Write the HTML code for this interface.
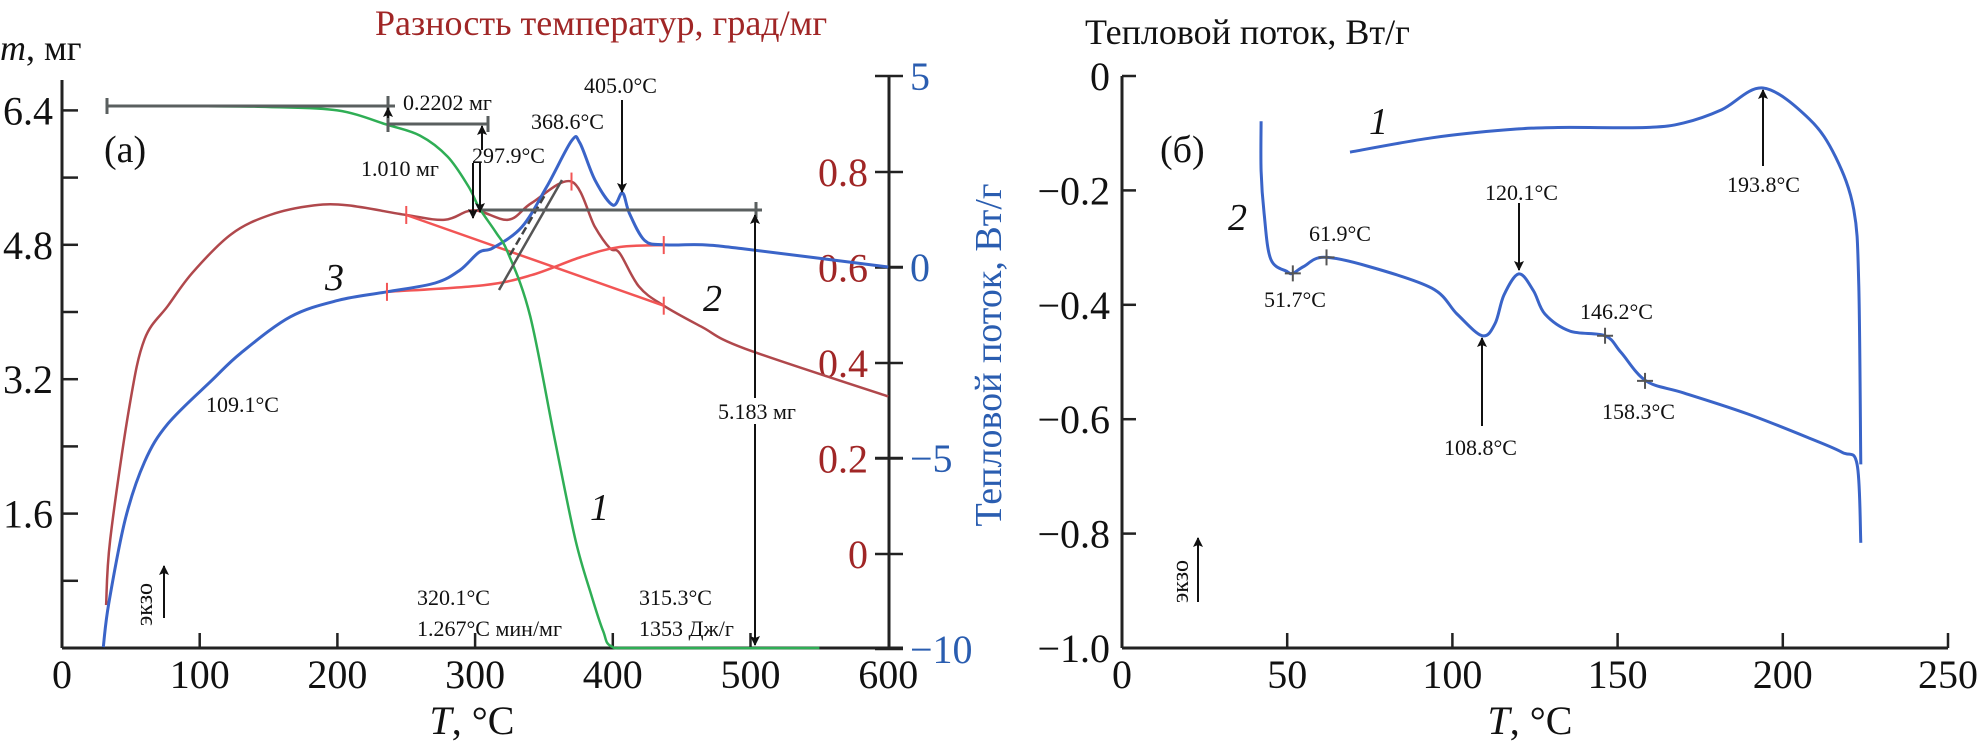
<!DOCTYPE html>
<html><head><meta charset="utf-8">
<style>
html,body{margin:0;padding:0;background:#fff;}
svg{display:block;font-family:"Liberation Serif","Noto Serif CJK SC",serif;}
</style></head>
<body>
<svg id="fig" width="1979" height="746" viewBox="0 0 1979 746" xmlns="http://www.w3.org/2000/svg">
<defs>
<marker id="ah" markerWidth="10" markerHeight="10" refX="9" refY="5" orient="auto" markerUnits="userSpaceOnUse"><path d="M0,0 L10,5 L0,10 L2,5 z" fill="#111"/></marker>
</defs>
<g id="left"></g>
<g id="right"></g>
</svg>
<script>
// ---------- Chart (a) data ----------
const xTicksA = [0,100,200,300,400,500,600];
const mTicks = [1.6,3.2,4.8,6.4];
const mMinor = [0.8,2.4,4.0,5.6];
const redTicks = [0,0.2,0.4,0.6,0.8];
const blueTicks = [-10,-5,0,5];
const tgT = [35,100,150,200,236,260,280,295,303,315,324,340,358,373,385,393,399,420,550];
const tgM = [6.45,6.45,6.44,6.40,6.23,6.10,5.85,5.5,5.24,4.95,4.70,3.95,2.47,1.28,0.6,0.2,0.02,0,0];
const dtaT = [32,35,49,60,77,95,123,151,183,208,250,278,299,324,341,370,387,398,405,419,437,465,496,600];
const dtaV = [-0.107,0.03,0.31,0.45,0.52,0.59,0.67,0.71,0.73,0.73,0.71,0.70,0.72,0.70,0.735,0.78,0.685,0.64,0.63,0.56,0.52,0.475,0.43,0.33];
const baseAT = [236,306,341,377,405,437];
const baseAV = [0.549,0.563,0.584,0.622,0.643,0.647];
const baseBT = [250,437];
const baseBV = [0.71,0.52];
const hfT = [30,34,46,60,77,109,130,166,201,236,271,289,303,313,334,352,370,376,387,400,407,412,423,437,465,496,600];
const hfV = [-9.95,-8.8,-6.6,-5.1,-4.1,-2.96,-2.25,-1.3,-0.87,-0.65,-0.42,-0.08,0.39,0.5,1.05,2.1,3.3,3.25,2.28,1.62,1.94,1.41,0.7,0.58,0.58,0.47,0.0];
// ---------- Chart (b) data ----------
const xTicksB = [0,50,100,150,200,250];
const yTicksB = [0,-0.2,-0.4,-0.6,-0.8,-1.0];
const c1T = [69,93.8,116.5,131.9,158.6,170,181.5,194,208,216,221.5,223,223.6];
const c1V = [-0.133,-0.108,-0.094,-0.09,-0.09,-0.082,-0.059,-0.021,-0.075,-0.142,-0.234,-0.367,-0.679];
const c2T = [42.1,42.1,43,45,50,51.7,55,61.1,74.7,93.8,101.4,109,112.9,115.6,120.1,124.5,128,135.6,146.2,151,158.6,170,189,208,218,222.5,223.6];
const c2V = [-0.079,-0.166,-0.24,-0.32,-0.342,-0.345,-0.333,-0.317,-0.333,-0.371,-0.416,-0.454,-0.433,-0.383,-0.346,-0.375,-0.416,-0.446,-0.454,-0.483,-0.533,-0.554,-0.59,-0.633,-0.658,-0.679,-0.816];

const NS="http://www.w3.org/2000/svg";
function mk(parent,tag,attrs,text){const e=document.createElementNS(NS,tag);for(const k in attrs)e.setAttribute(k,attrs[k]);if(text!==undefined)e.textContent=text;parent.appendChild(e);return e;}
const xA=t=>62+t*1.377, yM=m=>648-m*84, yR=v=>554-v*477.5, yB=v=>267-v*38.2;
const xB=t=>1122+t*3.304, yH=v=>76-v*572;
function pathD(xs,ys,fx,fy){
  const P=xs.map((t,i)=>[fx(t),fy(ys[i])]);
  let d='M'+P[0][0].toFixed(1)+','+P[0][1].toFixed(1);
  for(let i=0;i<P.length-1;i++){
    const p0=P[Math.max(0,i-1)],p1=P[i],p2=P[i+1],p3=P[Math.min(P.length-1,i+2)];
    const c1=[p1[0]+(p2[0]-p0[0])/6,p1[1]+(p2[1]-p0[1])/6];
    const c2=[p2[0]-(p3[0]-p1[0])/6,p2[1]-(p3[1]-p1[1])/6];
    d+=' C'+c1[0].toFixed(1)+','+c1[1].toFixed(1)+' '+c2[0].toFixed(1)+','+c2[1].toFixed(1)+' '+p2[0].toFixed(1)+','+p2[1].toFixed(1);
  }
  return d;
}

const L=document.getElementById('left'), R=document.getElementById('right');
let e;
e=mk(L,'line',{x1:62,y1:80,x2:62,y2:648,stroke:'#222','stroke-width':3});


e=mk(L,'line',{x1:62,y1:648,x2:903,y2:648,stroke:'#222','stroke-width':3});


e=mk(L,'line',{x1:889,y1:75,x2:889,y2:648,stroke:'#222','stroke-width':3});


xTicksA.forEach(t=>{
  if(t>0&&t<600){e=mk(L,'line',{x1:xA(t),y1:648,x2:xA(t),y2:633,stroke:'#222','stroke-width':2.5});
  
  }
  e=mk(L,'text',{x:xA(t),y:688,'font-size':40,'text-anchor':'middle',fill:'#111'},String(t));
  
  
});
mTicks.forEach(m=>{
  e=mk(L,'line',{x1:62,y1:yM(m),x2:78,y2:yM(m),stroke:'#222','stroke-width':2.5});
  
  
  e=mk(L,'text',{x:53,y:yM(m)+14,'font-size':40,'text-anchor':'end',fill:'#111'},m.toFixed(1));
  
  
});
mMinor.forEach(m=>{
  e=mk(L,'line',{x1:62,y1:yM(m),x2:78,y2:yM(m),stroke:'#222','stroke-width':2.5});
  
  
});
redTicks.forEach(v=>{
  e=mk(L,'line',{x1:875,y1:yR(v),x2:903,y2:yR(v),stroke:'#222','stroke-width':2.5});
  
  
  e=mk(L,'text',{x:868,y:yR(v)+14,'font-size':40,'text-anchor':'end',fill:'#a02626'},v===0?'0':v.toFixed(1));
  
  
});
blueTicks.forEach(v=>{
  e=mk(L,'line',{x1:875,y1:yB(v),x2:903,y2:yB(v),stroke:'#222','stroke-width':2.5});
  
  
  e=mk(L,'text',{x:910,y:yB(v)+14,'font-size':40,'text-anchor':'start',fill:'#2a5db0'},v<0?'\u2212'+(-v):String(v));
  
  
});
e=mk(L,'path',{d:pathD(dtaT,dtaV,xA,yR),fill:'none',stroke:'#b0484c','stroke-width':2.5});


e=mk(L,'path',{d:pathD(baseAT,baseAV,xA,yR),fill:'none',stroke:'#f25555','stroke-width':2.5});


e=mk(L,'path',{d:pathD(baseBT,baseBV,xA,yR),fill:'none',stroke:'#f25555','stroke-width':2.5});


e=mk(L,'path',{d:pathD(hfT,hfV,xA,yB),fill:'none',stroke:'#3a64c8','stroke-width':3});


e=mk(L,'path',{d:pathD(tgT,tgM,xA,yM),fill:'none',stroke:'#2fae55','stroke-width':2.5});


e=mk(L,'line',{x1:499,y1:290,x2:562,y2:180,stroke:'#555','stroke-width':2.5});


e=mk(L,'line',{x1:510,y1:255,x2:545,y2:195,stroke:'#444','stroke-width':2.5,'stroke-dasharray':'8 4'});


[[250,0.71],[437,0.52],[236,0.549],[437,0.647],[370,0.78]].forEach(p=>{
  e=mk(L,'line',{x1:xA(p[0]),y1:yR(p[1])-9,x2:xA(p[0]),y2:yR(p[1])+9,stroke:'#f25555','stroke-width':2});
  
  
});
function gl(x1,y1,x2,y2,n){e=mk(L,'line',{x1:x1,y1:y1,x2:x2,y2:y2,stroke:'#5a5f5f','stroke-width':3});}
gl(107,106,395,106,'mass-level-1');gl(107,98,107,114,'mass-cap');
gl(388,124,488,124,'mass-level-2');gl(388,96,388,132,'mass-cap');
gl(482,210,762,210,'mass-level-3');gl(756,202,756,218,'mass-cap');
gl(488,116,488,132,'mass-cap');
function arr(x1,y1,x2,y2,n){e=mk(L,'line',{x1:x1,y1:y1,x2:x2,y2:y2,stroke:'#111','stroke-width':2,'marker-end':'url(#ah)'});}
arr(755,640,755,215,'arrow-5183-up');arr(755,215,755,645,'arrow-5183-down');
arr(473,163,473,218,'arrow-2979-a');arr(480,163,480,212,'arrow-2979-b');
arr(482,150,482,126,'arrow-1010-up');
arr(622,100,622,192,'arrow-405');
arr(388,118,388,108,'arrow-0220');
function tx(p,x,y,s,str,n,extra){const a={x:x,y:y,'font-size':s,fill:'#111'};if(extra)Object.assign(a,extra);e=mk(p,'text',a,str);return e;}
tx(L,403,110,22,'0.2202 мг','label-0220');
tx(L,361,176,22,'1.010 мг','label-1010');
tx(L,472,163,22,'297.9°C','label-2979');
tx(L,531,129,22,'368.6°C','label-3686');
tx(L,584,93,22,'405.0°C','label-4050');
tx(L,206,412,22,'109.1°C','label-1091');
tx(L,417,605,22,'320.1°C','label-3201');
tx(L,417,636,22,'1.267°C мин/мг','label-rate');
tx(L,639,605,22,'315.3°C','label-3153');
tx(L,639,636,22,'1353 Дж/г','label-enthalpy');
e=mk(L,'rect',{x:718,y:398,width:80,height:26,fill:'#fff'});


tx(L,718,419,22,'5.183 мг','label-5183');
tx(L,104,162,38,'(a)','panel-label-a');
tx(L,325,290,38,'3','curve-label-3',{'font-style':'italic'});
tx(L,703,311,38,'2','curve-label-2',{'font-style':'italic'});
tx(L,590,520,38,'1','curve-label-1',{'font-style':'italic'});
tx(L,152,626,24,'экзо','exo-label-a',{transform:'rotate(-90 152 626)'});
arr(164,618,164,566,'exo-arrow-a');
e=mk(L,'text',{x:0,y:60,'font-size':36,fill:'#111'});


e.innerHTML='<tspan font-style="italic">m</tspan>, мг';
tx(L,375,35,36,'Разность температур, град/мг','red-axis-title',{fill:'#a02626'});
e=mk(L,'text',{x:988,y:355,'font-size':38,fill:'#2a5db0','text-anchor':'middle',transform:'rotate(-90 988 355)',dy:'13'},'Тепловой поток, Вт/г');


e=mk(L,'text',{x:472,y:734,'font-size':40,fill:'#111','text-anchor':'middle'});


e.innerHTML='<tspan font-style="italic">T</tspan>, °C';

e=mk(R,'line',{x1:1122,y1:76,x2:1122,y2:648,stroke:'#222','stroke-width':3});


e=mk(R,'line',{x1:1122,y1:648,x2:1948,y2:648,stroke:'#222','stroke-width':3});


xTicksB.forEach(t=>{
  if(t>0){e=mk(R,'line',{x1:xB(t),y1:648,x2:xB(t),y2:633,stroke:'#222','stroke-width':2.5});
  
  }
  e=mk(R,'text',{x:xB(t),y:688,'font-size':40,'text-anchor':'middle',fill:'#111'},String(t));
  
  
});
yTicksB.forEach(v=>{
  e=mk(R,'line',{x1:1122,y1:yH(v),x2:1136,y2:yH(v),stroke:'#222','stroke-width':2.5});
  
  
  e=mk(R,'text',{x:1110,y:yH(v)+14,'font-size':40,'text-anchor':'end',fill:'#111'},v===0?'0':'\u2212'+(-v).toFixed(1));
  
  
});
e=mk(R,'path',{d:pathD(c1T,c1V,xB,yH),fill:'none',stroke:'#3a64c8','stroke-width':3});


e=mk(R,'path',{d:pathD(c2T,c2V,xB,yH),fill:'none',stroke:'#3a64c8','stroke-width':3});


[[51.7,-0.345],[61.9,-0.317],[146.2,-0.454],[158.3,-0.533]].forEach(p=>{
  e=mk(R,'path',{d:`M${xB(p[0])-8},${yH(p[1])} h16 M${xB(p[0])},${yH(p[1])-8} v16`,stroke:'#555','stroke-width':2});
  
  
});
function arrR(x1,y1,x2,y2,n){e=mk(R,'line',{x1:x1,y1:y1,x2:x2,y2:y2,stroke:'#111','stroke-width':2,'marker-end':'url(#ah)'});}
arrR(1763,166,1763,90,'arrow-1938');
arrR(1519,203,1519,270,'arrow-1201');
arrR(1482,426,1482,338,'arrow-1088');
arrR(1198,602,1198,538,'exo-arrow-b');
tx(R,1727,192,22,'193.8°C','label-1938');
tx(R,1485,200,22,'120.1°C','label-1201');
tx(R,1309,241,22,'61.9°C','label-619');
tx(R,1264,307,22,'51.7°C','label-517');
tx(R,1444,455,22,'108.8°C','label-1088');
tx(R,1580,319,22,'146.2°C','label-1462');
tx(R,1602,419,22,'158.3°C','label-1583');
tx(R,1160,162,38,'(б)','panel-label-b');
tx(R,1369,134,38,'1','curve-label-b1',{'font-style':'italic'});
tx(R,1228,230,38,'2','curve-label-b2',{'font-style':'italic'});
tx(R,1188,603,24,'экзо','exo-label-b',{transform:'rotate(-90 1188 603)'});
tx(R,1085,44,36,'Тепловой поток, Вт/г','y-axis-title-b');
e=mk(R,'text',{x:1530,y:734,'font-size':40,fill:'#111','text-anchor':'middle'});


e.innerHTML='<tspan font-style="italic">T</tspan>, °C';
</script>
</body></html>
